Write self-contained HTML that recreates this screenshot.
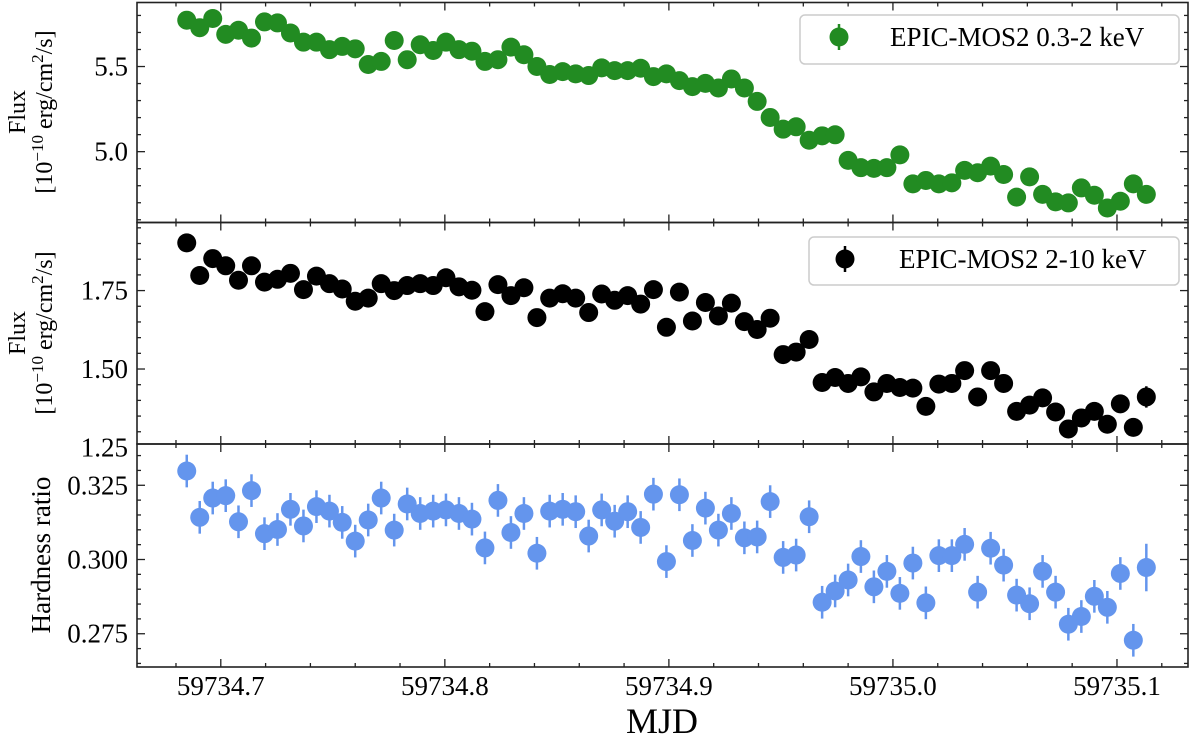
<!DOCTYPE html>
<html><head><meta charset="utf-8"><style>
html,body{margin:0;padding:0;background:#fff;}
svg{display:block;font-family:"Liberation Serif","DejaVu Serif",serif;}
</style></head><body>
<svg id="chart" width="1200" height="743" viewBox="0 0 1200 743" xmlns="http://www.w3.org/2000/svg"></svg>
<script>
// MJD offsets from 59734
const times = [0.6848,0.6906,0.6964,0.7022,0.7079,0.7137,0.7195,0.7253,0.7311,0.7369,0.7427,0.7485,0.7542,0.7600,0.7658,0.7716,0.7774,0.7832,0.7890,0.7948,0.8005,0.8063,0.8121,0.8179,0.8237,0.8295,0.8353,0.8411,0.8468,0.8526,0.8584,0.8642,0.8700,0.8758,0.8816,0.8874,0.8931,0.8989,0.9047,0.9105,0.9163,0.9221,0.9279,0.9337,0.9394,0.9452,0.9510,0.9568,0.9626,0.9684,0.9742,0.9800,0.9857,0.9915,0.9973,1.0031,1.0089,1.0147,1.0205,1.0263,1.0320,1.0378,1.0436,1.0494,1.0552,1.0610,1.0668,1.0726,1.0783,1.0841,1.0899,1.0957,1.1015,1.1073,1.1131];
const softFlux = [5.772,5.728,5.782,5.689,5.713,5.667,5.762,5.756,5.697,5.643,5.643,5.599,5.618,5.604,5.512,5.530,5.653,5.540,5.628,5.594,5.643,5.599,5.590,5.530,5.540,5.614,5.569,5.500,5.453,5.470,5.457,5.447,5.492,5.476,5.476,5.490,5.441,5.457,5.417,5.382,5.401,5.374,5.427,5.374,5.295,5.201,5.132,5.146,5.067,5.093,5.099,4.949,4.906,4.902,4.906,4.981,4.811,4.831,4.811,4.817,4.890,4.876,4.915,4.866,4.733,4.852,4.749,4.705,4.699,4.787,4.744,4.669,4.709,4.811,4.749];
const hardFlux = [1.902,1.798,1.852,1.829,1.783,1.829,1.777,1.786,1.805,1.753,1.796,1.772,1.755,1.716,1.726,1.772,1.750,1.766,1.772,1.766,1.791,1.762,1.751,1.683,1.769,1.734,1.759,1.664,1.726,1.740,1.726,1.680,1.739,1.719,1.734,1.707,1.753,1.633,1.745,1.653,1.712,1.669,1.710,1.651,1.626,1.662,1.546,1.554,1.594,1.457,1.473,1.454,1.475,1.427,1.454,1.441,1.439,1.381,1.452,1.454,1.495,1.411,1.495,1.454,1.365,1.385,1.408,1.363,1.309,1.344,1.365,1.324,1.389,1.314,1.411];
const hardErr = [0.01,0.01,0.01,0.01,0.01,0.01,0.01,0.01,0.01,0.01,0.01,0.01,0.01,0.01,0.01,0.01,0.01,0.01,0.01,0.01,0.01,0.01,0.01,0.01,0.01,0.01,0.01,0.01,0.01,0.01,0.01,0.01,0.01,0.01,0.01,0.01,0.01,0.01,0.01,0.01,0.01,0.01,0.01,0.01,0.01,0.01,0.01,0.01,0.01,0.01,0.01,0.01,0.01,0.01,0.01,0.01,0.01,0.01,0.01,0.01,0.01,0.01,0.01,0.01,0.01,0.01,0.01,0.01,0.01,0.01,0.01,0.01,0.01,0.01,0.034];
const hardness = [0.3298,0.3142,0.3207,0.3215,0.3127,0.3232,0.3087,0.3101,0.3169,0.3113,0.3178,0.3163,0.3125,0.3062,0.3133,0.3207,0.3099,0.3187,0.3155,0.3163,0.3167,0.3155,0.3136,0.3039,0.3199,0.3091,0.3155,0.3021,0.3163,0.3169,0.3161,0.3079,0.3167,0.3129,0.3161,0.3108,0.3220,0.2993,0.3218,0.3064,0.3173,0.3099,0.3155,0.3073,0.3076,0.3195,0.3007,0.3015,0.3144,0.2856,0.2894,0.2931,0.3010,0.2908,0.2960,0.2886,0.2988,0.2854,0.3013,0.3013,0.3051,0.2890,0.3038,0.2981,0.2880,0.2851,0.2960,0.2890,0.2782,0.2808,0.2876,0.2839,0.2953,0.2728,0.2973];
const hardnessErr = [0.0055,0.0055,0.0055,0.0055,0.0055,0.0055,0.0055,0.0055,0.0055,0.0055,0.0055,0.0055,0.0055,0.0055,0.0055,0.0055,0.0055,0.0055,0.0055,0.0055,0.0055,0.0055,0.0055,0.0055,0.0055,0.0055,0.0055,0.0055,0.0055,0.0055,0.0055,0.0055,0.0055,0.0055,0.0055,0.0055,0.0055,0.0055,0.0055,0.0055,0.0055,0.0055,0.0055,0.0055,0.0055,0.0055,0.0055,0.0055,0.0055,0.0055,0.0055,0.0055,0.0055,0.0055,0.0055,0.0055,0.0055,0.0055,0.0055,0.0055,0.0055,0.0055,0.0055,0.0055,0.0055,0.0055,0.0055,0.0055,0.0055,0.0055,0.0055,0.0055,0.0055,0.0055,0.008];
const xTickLabels = ["59734.7","59734.8","59734.9","59735.0","59735.1"];
const xTickValues = [0.7,0.8,0.9,1.0,1.1];
const topTicks = [5.0,5.5];
const midTicks = [1.25,1.50,1.75];
const botTicks = [0.275,0.300,0.325];

const svg = document.getElementById('chart');
const NS = 'http://www.w3.org/2000/svg';
function mk(tag, attrs, parent){
  const e = document.createElementNS(NS, tag);
  for (const k in attrs) e.setAttribute(k, attrs[k]);
  (parent||svg).appendChild(e);
  return e;
}
const L = 137, R = 1188;
const xMin = 0.6626, xMax = 1.1317;
function xs(t){ return L + (t - xMin) / (xMax - xMin) * (R - L); }

const panels = [
  {name:'soft-flux-panel', top:2.5, bot:222.5, min:4.584, max:5.876, minor:0.1, ticks:topTicks, fmt:v=>v.toFixed(1), vals:softFlux, errs:null, color:'#228B22'},
  {name:'hard-flux-panel', top:222.5, bot:444, min:1.261, max:1.967, minor:0.05, ticks:midTicks, fmt:v=>v.toFixed(2), vals:hardFlux, errs:hardErr, color:'#000000'},
  {name:'hardness-panel', top:444, bot:667, min:0.2638, max:0.3389, minor:0.005, ticks:botTicks, fmt:v=>v.toFixed(3), vals:hardness, errs:hardnessErr, color:'#6495ED'}
];

panels.forEach((p, pi) => {
  const g = mk('g', {});
  
  
  const ys = v => p.bot - (v - p.min) / (p.max - p.min) * (p.bot - p.top);
  const series = mk('g', {}, g);
  
  
  p.vals.forEach((v, i) => {
    const cx = xs(times[i]), cy = ys(v);
    if (p.errs) {
      const e = p.errs[i];
      const eb = mk('line', {x1:cx, x2:cx, y1:ys(v+e), y2:ys(v-e), stroke:p.color, 'stroke-width':2.5}, series);
      
      
    }
    const c = mk('circle', {cx:cx, cy:cy, r:9.5, fill:p.color}, series);
    
    
  });
  const tg = mk('g', {stroke:'#222', 'stroke-width':1.3}, g);
  
  
  for (let k = 0; k <= 30; k++) {
    const t = 0.66 + k*0.02;
    const x = xs(t);
    if (x < L || x > R) continue;
    const major = Math.abs(((t*10)%1)) < 1e-6 || Math.abs(((t*10)%1)-1) < 1e-6;
    const len = major ? 8 : 4;
    mk('line', {x1:x, x2:x, y1:p.top, y2:p.top+len}, tg);
    mk('line', {x1:x, x2:x, y1:p.bot, y2:p.bot-len}, tg);
  }
  const start = Math.ceil(p.min / p.minor) * p.minor;
  for (let v = start; v <= p.max + 1e-9; v += p.minor) {
    const y = ys(v);
    const isMajor = p.ticks.some(tk => Math.abs(tk - v) < p.minor/10);
    const len = isMajor ? 8 : 4;
    mk('line', {x1:L, x2:L+len, y1:y, y2:y}, tg);
    mk('line', {x1:R, x2:R-len, y1:y, y2:y}, tg);
  }
  p.ticks.forEach(tk => {
    const y = ys(tk);
    const tl = mk('text', {x:128, y:y+9, 'text-anchor':'end', 'font-size':27, fill:'#000'}, g);
    tl.textContent = p.fmt(tk);
    
    
  });
  const fr = mk('rect', {x:L, y:p.top, width:R-L, height:p.bot-p.top, fill:'none', stroke:'#222', 'stroke-width':1.6}, g);
  
  
});

xTickValues.forEach((t, i) => {
  const tx = mk('text', {x:xs(t), y:695, 'text-anchor':'middle', 'font-size':27, fill:'#000'});
  tx.textContent = xTickLabels[i];
  
  
});
const xt = mk('text', {x:662, y:733, 'text-anchor':'middle', 'font-size':36, fill:'#000'});
xt.textContent = 'MJD';


</script>
<svg width="1200" height="743" style="position:absolute;left:0;top:0;pointer-events:none" xmlns="http://www.w3.org/2000/svg" font-family="Liberation Serif, DejaVu Serif, serif">
  <g>
    <text transform="translate(25,112) rotate(-90)" text-anchor="middle" font-size="24">Flux</text>
    <text transform="translate(52,112) rotate(-90)" text-anchor="middle" font-size="24">[10<tspan dy="-9" font-size="17">−10</tspan><tspan dy="9"> erg/cm</tspan><tspan dy="-9" font-size="17">2</tspan><tspan dy="9">/s]</tspan></text>
  </g>
  <g>
    <text transform="translate(25,333) rotate(-90)" text-anchor="middle" font-size="24">Flux</text>
    <text transform="translate(52,333) rotate(-90)" text-anchor="middle" font-size="24">[10<tspan dy="-9" font-size="17">−10</tspan><tspan dy="9"> erg/cm</tspan><tspan dy="-9" font-size="17">2</tspan><tspan dy="9">/s]</tspan></text>
  </g>
  <text transform="translate(50,555) rotate(-90)" text-anchor="middle" font-size="27">Hardness ratio</text>
  <g>
    <rect x="800" y="15" width="379" height="49" rx="5" fill="#fff" fill-opacity="0.85" stroke="#ccc" stroke-width="1.5"/>
    <line x1="839" x2="839" y1="24" y2="50" stroke="#228B22" stroke-width="2.5"/>
    <circle cx="839" cy="37" r="9.5" fill="#228B22"/>
    <text x="890" y="46" font-size="27">EPIC-MOS2 0.3-2 keV</text>
  </g>
  <g>
    <rect x="809" y="237" width="370" height="48" rx="5" fill="#fff" fill-opacity="0.85" stroke="#ccc" stroke-width="1.5"/>
    <line x1="845" x2="845" y1="246" y2="272" stroke="#000" stroke-width="2.5"/>
    <circle cx="845" cy="259" r="9.5" fill="#000"/>
    <text x="899" y="268" font-size="27">EPIC-MOS2 2-10 keV</text>
  </g>
</svg>
</body></html>
